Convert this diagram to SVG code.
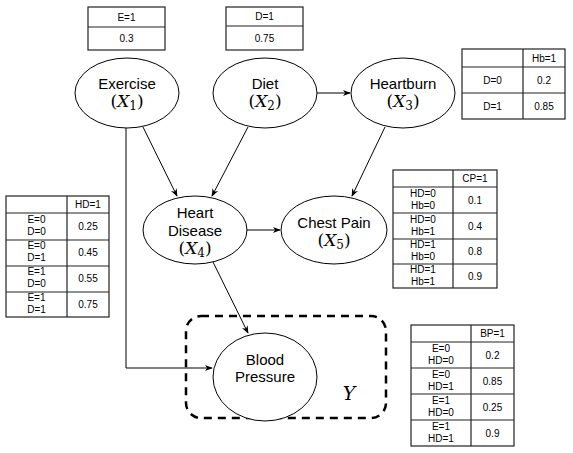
<svg xmlns="http://www.w3.org/2000/svg" width="573" height="453" viewBox="0 0 573 453">
<style>
.node ellipse{fill:#fff;stroke:#000;stroke-width:1}
.lbl{font-family:"Liberation Sans",Arial,sans-serif;font-size:15px;text-anchor:middle;fill:#000}
.math{font-family:"DejaVu Serif","Liberation Serif",serif;font-size:17px;text-anchor:middle;fill:#000}
.tbl rect{fill:#fff;stroke:#222;stroke-width:1.2}
.tbl line{stroke:#222;stroke-width:1.2}
.tt{font-family:"Liberation Sans",Arial,sans-serif;font-size:10px;text-anchor:middle;fill:#000}
.edge{fill:none;stroke:#000;stroke-width:1}
</style>
<defs>
<marker id="arr" viewBox="0 0 10 10" refX="9" refY="5" markerWidth="8" markerHeight="8" markerUnits="userSpaceOnUse" orient="auto">
<path d="M0,1 L10,5 L0,9 L3,5 Z" fill="#000"/>
</marker>
</defs>

<g id="connectors">
<path class="edge" d="M143,127 L177,196" marker-end="url(#arr)"/>
<path class="edge" d="M248,127 L212,196" marker-end="url(#arr)"/>
<path class="edge" d="M317,93 L350,93" marker-end="url(#arr)"/>
<path class="edge" d="M385,127 L352,196" marker-end="url(#arr)"/>
<path class="edge" d="M247,230 L280,230" marker-end="url(#arr)"/>
<path class="edge" d="M213,262 L248,333" marker-end="url(#arr)"/>
<path class="edge" d="M126,128 L126,368 L212,368" marker-end="url(#arr)"/>
</g>

<g id="group-Y">
<rect x="186" y="316" width="200" height="102" rx="15" ry="15" fill="none" stroke="#000" stroke-width="2.5" stroke-dasharray="8,6"/>
<text x="349" y="400" font-family="DejaVu Serif,Liberation Serif,serif" font-style="italic" font-size="19" text-anchor="middle">Y</text>
</g>

<g id="node-exercise" class="node">
<ellipse cx="127" cy="93" rx="52" ry="35"/>
<text class="lbl" x="127" y="89">Exercise</text>
<text class="math" x="127" y="107">(<tspan font-style="italic">X</tspan><tspan font-size="12" dy="3">1</tspan><tspan dy="-3">)</tspan></text>
</g>

<g id="node-diet" class="node">
<ellipse cx="265" cy="93" rx="52" ry="35"/>
<text class="lbl" x="265" y="89">Diet</text>
<text class="math" x="265" y="107">(<tspan font-style="italic">X</tspan><tspan font-size="12" dy="3">2</tspan><tspan dy="-3">)</tspan></text>
</g>

<g id="node-heartburn" class="node">
<ellipse cx="403" cy="93" rx="52" ry="35"/>
<text class="lbl" x="403" y="89">Heartburn</text>
<text class="math" x="403" y="107">(<tspan font-style="italic">X</tspan><tspan font-size="12" dy="3">3</tspan><tspan dy="-3">)</tspan></text>
</g>

<g id="node-heartdisease" class="node">
<ellipse cx="195" cy="230" rx="52" ry="34"/>
<text class="lbl" x="195" y="218">Heart</text>
<text class="lbl" x="195" y="236">Disease</text>
<text class="math" x="195" y="254">(<tspan font-style="italic">X</tspan><tspan font-size="12" dy="3">4</tspan><tspan dy="-3">)</tspan></text>
</g>

<g id="node-chestpain" class="node">
<ellipse cx="334" cy="230" rx="53" ry="34"/>
<text class="lbl" x="334" y="228">Chest Pain</text>
<text class="math" x="334" y="246">(<tspan font-style="italic">X</tspan><tspan font-size="12" dy="3">5</tspan><tspan dy="-3">)</tspan></text>
</g>

<g id="node-bloodpressure" class="node">
<ellipse cx="265" cy="377" rx="52" ry="44"/>
<text class="lbl" x="265" y="365">Blood</text>
<text class="lbl" x="265" y="382">Pressure</text>
</g>

<g id="table-E" class="tbl">
<rect x="88" y="7" width="77" height="43"/>
<line x1="88" y1="27" x2="165" y2="27"/>
<text class="tt" x="126.5" y="21">E=1</text>
<text class="tt" x="126.5" y="42">0.3</text>
</g>

<g id="table-D" class="tbl">
<rect x="226" y="7" width="77" height="43"/>
<line x1="226" y1="26" x2="303" y2="26"/>
<text class="tt" x="264.5" y="20">D=1</text>
<text class="tt" x="264.5" y="42">0.75</text>
</g>

<g id="table-Hb" class="tbl">
<rect x="462" y="49" width="103" height="70"/>
<line x1="462" y1="67" x2="565" y2="67"/>
<line x1="462" y1="93" x2="565" y2="93"/>
<line x1="523" y1="49" x2="523" y2="119"/>
<text class="tt" x="544" y="62">Hb=1</text>
<text class="tt" x="492.5" y="84">D=0</text>
<text class="tt" x="544" y="84">0.2</text>
<text class="tt" x="492.5" y="110">D=1</text>
<text class="tt" x="544" y="110">0.85</text>
</g>

<g id="table-HD" class="tbl">
<rect x="6" y="196" width="103" height="121"/>
<line x1="6" y1="213" x2="109" y2="213"/>
<line x1="6" y1="240" x2="109" y2="240"/>
<line x1="6" y1="266" x2="109" y2="266"/>
<line x1="6" y1="292" x2="109" y2="292"/>
<line x1="67" y1="196" x2="67" y2="317"/>
<text class="tt" x="88" y="208">HD=1</text>
<text class="tt" x="36.5" y="223">E=0</text><text class="tt" x="36.5" y="235">D=0</text><text class="tt" x="88" y="230">0.25</text>
<text class="tt" x="36.5" y="249">E=0</text><text class="tt" x="36.5" y="261">D=1</text><text class="tt" x="88" y="256">0.45</text>
<text class="tt" x="36.5" y="275">E=1</text><text class="tt" x="36.5" y="287">D=0</text><text class="tt" x="88" y="282">0.55</text>
<text class="tt" x="36.5" y="301">E=1</text><text class="tt" x="36.5" y="313">D=1</text><text class="tt" x="88" y="308">0.75</text>
</g>

<g id="table-CP" class="tbl">
<rect x="393" y="170" width="104" height="118"/>
<line x1="393" y1="187" x2="497" y2="187"/>
<line x1="393" y1="213" x2="497" y2="213"/>
<line x1="393" y1="239" x2="497" y2="239"/>
<line x1="393" y1="264" x2="497" y2="264"/>
<line x1="453" y1="170" x2="453" y2="288"/>
<text class="tt" x="475" y="182">CP=1</text>
<text class="tt" x="423" y="197">HD=0</text><text class="tt" x="423" y="209">Hb=0</text><text class="tt" x="475" y="204">0.1</text>
<text class="tt" x="423" y="223">HD=0</text><text class="tt" x="423" y="235">Hb=1</text><text class="tt" x="475" y="230">0.4</text>
<text class="tt" x="423" y="248">HD=1</text><text class="tt" x="423" y="260">Hb=0</text><text class="tt" x="475" y="255">0.8</text>
<text class="tt" x="423" y="273">HD=1</text><text class="tt" x="423" y="285">Hb=1</text><text class="tt" x="475" y="280">0.9</text>
</g>

<g id="table-BP" class="tbl">
<rect x="411" y="325" width="103" height="121"/>
<line x1="411" y1="342" x2="514" y2="342"/>
<line x1="411" y1="368" x2="514" y2="368"/>
<line x1="411" y1="394" x2="514" y2="394"/>
<line x1="411" y1="420" x2="514" y2="420"/>
<line x1="471" y1="325" x2="471" y2="446"/>
<text class="tt" x="492.5" y="337">BP=1</text>
<text class="tt" x="441" y="352">E=0</text><text class="tt" x="441" y="364">HD=0</text><text class="tt" x="492.5" y="359">0.2</text>
<text class="tt" x="441" y="378">E=0</text><text class="tt" x="441" y="390">HD=1</text><text class="tt" x="492.5" y="385">0.85</text>
<text class="tt" x="441" y="404">E=1</text><text class="tt" x="441" y="416">HD=0</text><text class="tt" x="492.5" y="411">0.25</text>
<text class="tt" x="441" y="430">E=1</text><text class="tt" x="441" y="442">HD=1</text><text class="tt" x="492.5" y="437">0.9</text>
</g>
</svg>
